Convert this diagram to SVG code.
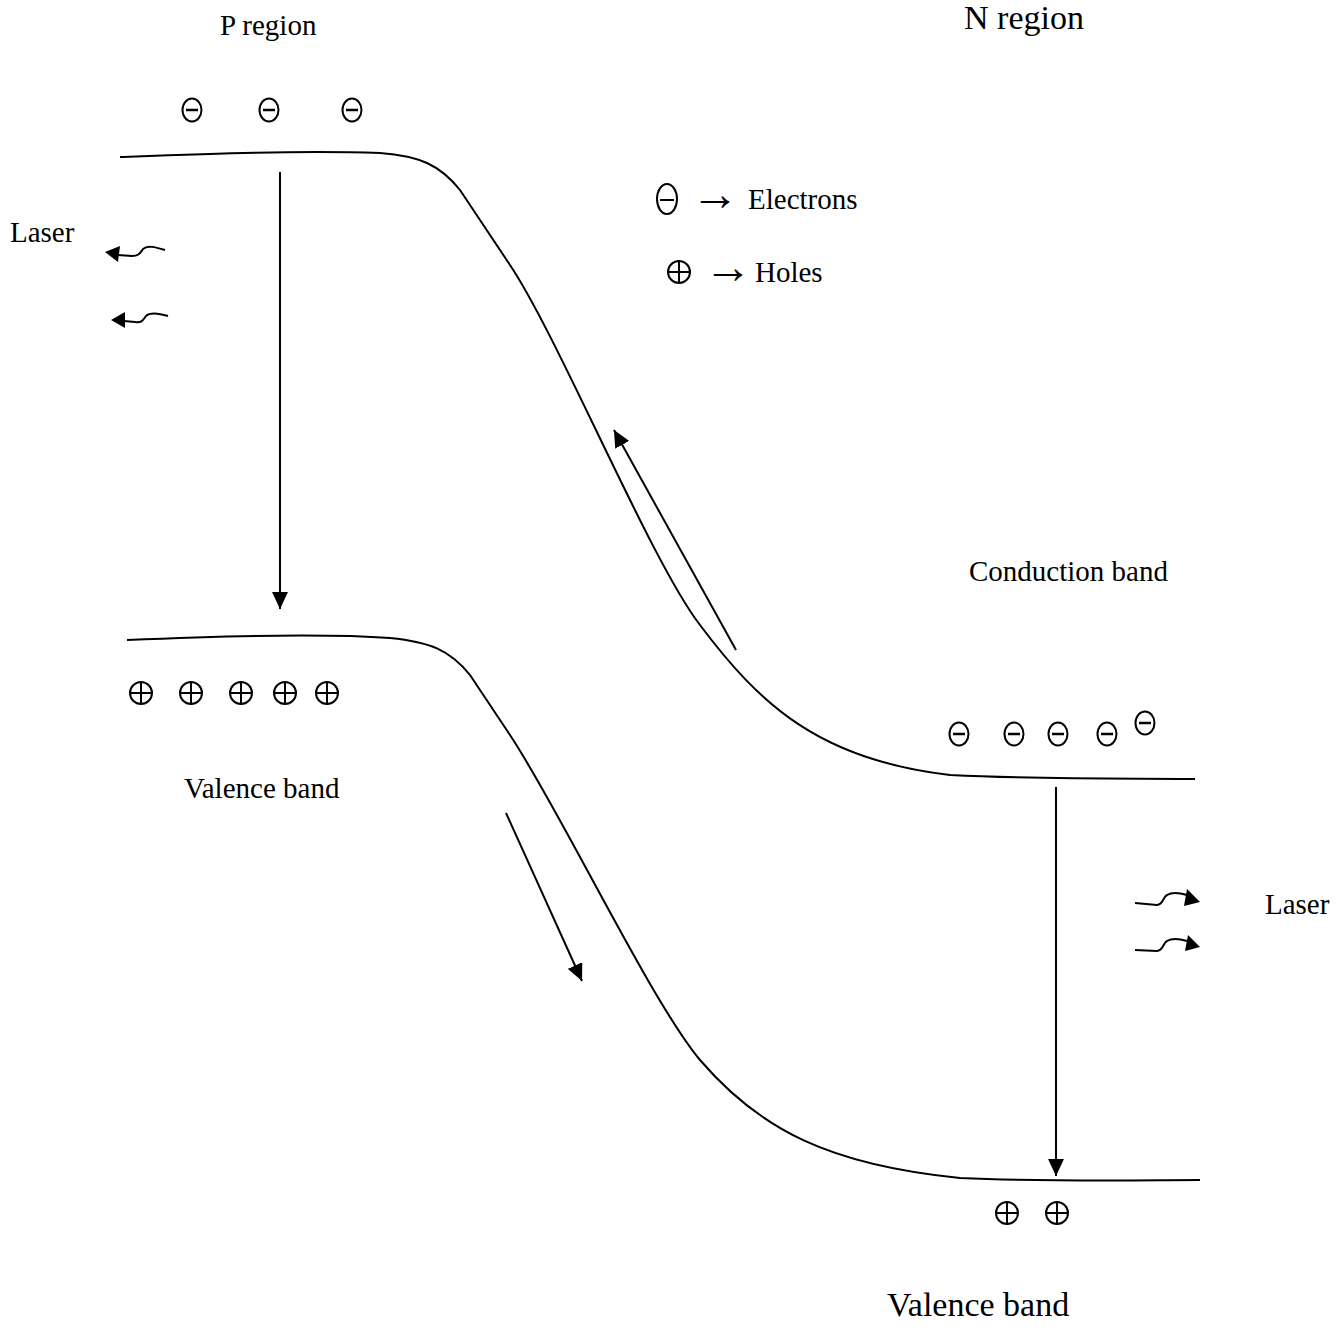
<svg xmlns="http://www.w3.org/2000/svg" width="1343" height="1333" viewBox="0 0 1343 1333">
<style>
.t{font-family:"Liberation Serif","DejaVu Serif",serif;font-size:29px;fill:#000}
.tb{font-family:"Liberation Serif","DejaVu Serif",serif;font-size:34px;fill:#000}
.ar{font-family:"Liberation Serif","DejaVu Serif",serif;font-size:48px;fill:#000}
.ln{fill:none;stroke:#000;stroke-width:2}
.e{fill:none;stroke:#000;stroke-width:2}
.h{fill:none;stroke:#000;stroke-width:2}
.ah{fill:#000;stroke:none}
</style>
<defs>
<marker id="arr" markerUnits="userSpaceOnUse" markerWidth="18" markerHeight="16" refX="17" refY="8" orient="auto"><path d="M0,0 L17,8 L0,16 z" fill="#000"/></marker>
<g id="el"><ellipse cx="0" cy="0" rx="9.5" ry="11.5" class="e"/><line x1="-6" y1="0" x2="6" y2="0" stroke="#000" stroke-width="2.5"/></g>
<g id="ho"><circle cx="0" cy="0" r="11" class="h"/><line x1="-11" y1="0" x2="11" y2="0" stroke="#000" stroke-width="2"/><line x1="0" y1="-11" x2="0" y2="11" stroke="#000" stroke-width="2"/></g>
</defs>
<rect width="1343" height="1333" fill="#fff"/>
<g id="labels">
<text class="t" x="220" y="35">P region</text>
<text class="tb" x="964" y="29">N region</text>
<text class="t" x="10" y="242">Laser</text>
<text class="t" x="1265" y="914">Laser</text>
<text class="t" x="969" y="581">Conduction band</text>
<text class="t" x="184" y="798">Valence band</text>
<text class="tb" x="887" y="1316">Valence band</text>
</g>
<g id="legend">
<ellipse cx="667" cy="199" rx="10" ry="15" class="e"/><line x1="660" y1="200" x2="674" y2="200" stroke="#000" stroke-width="2"/>
<text class="ar" x="691" y="210">→</text>
<text class="t" x="748" y="209">Electrons</text>
<use href="#ho" x="679" y="272"/>
<text class="ar" x="704" y="283">→</text>
<text class="t" x="755" y="282">Holes</text>
</g>
<g id="electrons">
<use href="#el" x="192" y="110"/>
<use href="#el" x="269" y="110"/>
<use href="#el" x="352" y="110"/>
<use href="#el" x="959" y="734"/>
<use href="#el" x="1014" y="734"/>
<use href="#el" x="1058" y="734"/>
<use href="#el" x="1107" y="734"/>
<use href="#el" x="1145" y="723"/>
</g>
<g id="holes">
<use href="#ho" x="141" y="693"/>
<use href="#ho" x="191" y="693"/>
<use href="#ho" x="241" y="693"/>
<use href="#ho" x="285" y="693"/>
<use href="#ho" x="327" y="693"/>
<use href="#ho" x="1007" y="1213"/>
<use href="#ho" x="1057" y="1213"/>
</g>
<g id="bands">
<path class="ln" d="M120,157 C200,154 300,150 380,153 C420,156 440,165 460,190 L510,265 C560,340 650,560 700,625 C760,705 820,760 950,775 C1050,780 1150,778 1195,779"/>
<path class="ln" d="M127,640 C220,636 320,633 390,638 C430,642 450,650 470,675 L510,735 C560,810 650,1000 700,1060 C760,1130 830,1165 960,1178 C1050,1182 1150,1180 1200,1180"/>
</g>
<g id="connectors">
<line class="ln" x1="280" y1="172" x2="280" y2="609" marker-end="url(#arr)"/>
<line class="ln" x1="1056" y1="787" x2="1056" y2="1176" marker-end="url(#arr)"/>
<line class="ln" x1="736" y1="650" x2="614" y2="430" marker-end="url(#arr)"/>
<line class="ln" x1="506" y1="813" x2="582" y2="981" marker-end="url(#arr)"/>
<path class="ln" d="M165,250 C155,247 147,245 143,249 C140,253 139,256 132,256 L118,255"/>
<polygon class="ah" points="105,252 120,246 118,262"/>
<path class="ln" d="M168,316 C158,313 150,312 146,316 C143,320 142,323 135,322 L124,321"/>
<polygon class="ah" points="111,320 125,312 125,328"/>
<path class="ln" d="M1135,903 L1157,905 C1163,905 1163,897 1167,895 C1172,892 1180,893 1187,895"/>
<polygon class="ah" points="1187,889 1200,902 1184,906"/>
<path class="ln" d="M1135,950 L1157,951 C1163,951 1163,943 1167,941 C1172,938 1180,939 1187,941"/>
<polygon class="ah" points="1188,935 1200,947 1185,951"/>
</g>
</svg>
